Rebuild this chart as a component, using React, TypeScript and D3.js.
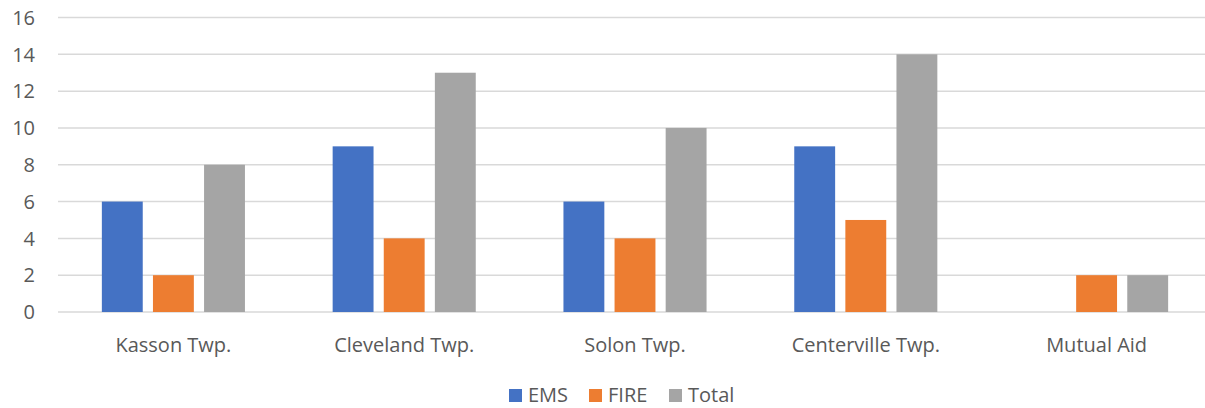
import React, { useEffect, useRef } from "react";
import * as d3 from "d3";

const categories = ["Kasson Twp.", "Cleveland Twp.", "Solon Twp.", "Centerville Twp.", "Mutual Aid"];
const seriesNames = ["EMS", "FIRE", "Total"];
const emsValues = [6, 9, 6, 9, 0];
const fireValues = [2, 4, 4, 5, 2];
const totalValues = [8, 13, 10, 14, 2];
const yTicks = [0, 2, 4, 6, 8, 10, 12, 14, 16];

const colors = ["#4472C4", "#ED7D31", "#A5A5A5"];

const App: React.FC = () => {
  const svgRef = useRef<SVGSVGElement>(null);

  useEffect(() => {
    if (!svgRef.current) return;
    const width = 1205;
    const height = 408;
    const margin = { top: 17.5, right: -7, bottom: 96, left: 58 };
    const font = "'Open Sans', 'Liberation Sans', Arial, sans-serif";

    const svg = d3.select(svgRef.current);
    svg.selectAll("*").remove();

    const x = d3
      .scaleBand<string>()
      .domain(categories)
      .range([margin.left, width - margin.right]);

    const inner = d3
      .scaleBand<string>()
      .domain(seriesNames)
      .range([0, x.bandwidth() * 0.62])
      .paddingInner(0.2);

    const y = d3
      .scaleLinear()
      .domain([0, 16])
      .range([height - margin.bottom, margin.top]);

    // gridlines
    svg
      .append("g")
      .selectAll("line")
      .data(yTicks)
      .join("line")
      .attr("x1", margin.left)
      .attr("x2", width)
      .attr("y1", (d) => y(d))
      .attr("y2", (d) => y(d))
      .attr("stroke", "#D9D9D9")
      .attr("stroke-width", 1.5);

    // y labels
    svg
      .append("g")
      .selectAll("text")
      .data(yTicks)
      .join("text")
      .attr("x", 35)
      .attr("y", (d) => y(d))
      .attr("dy", "0.36em")
      .attr("text-anchor", "end")
      .attr("font-family", font)
      .attr("font-size", 20)
      .attr("fill", "#595959")
      .text((d) => d);

    const table = categories.map((c, i) => ({
      category: c,
      values: [emsValues[i], fireValues[i], totalValues[i]],
    }));

    const groupOffset = (x.bandwidth() - x.bandwidth() * 0.62) / 2;

    const groups = svg
      .append("g")
      .selectAll("g")
      .data(table)
      .join("g")
      .attr("transform", (d) => `translate(${(x(d.category) ?? 0) + groupOffset},0)`);

    groups
      .selectAll("rect")
      .data((d) => d.values.map((v, j) => ({ name: seriesNames[j], value: v, color: colors[j] })))
      .join("rect")
      .filter((d) => d.value > 0)
      .attr("x", (d) => inner(d.name) ?? 0)
      .attr("width", inner.bandwidth())
      .attr("y", (d) => y(d.value))
      .attr("height", (d) => y(0) - y(d.value))
      .attr("fill", (d) => d.color);

    // category labels
    svg
      .append("g")
      .selectAll("text")
      .data(categories)
      .join("text")
      .attr("x", (d) => (x(d) ?? 0) + x.bandwidth() / 2)
      .attr("y", 352)
      .attr("text-anchor", "middle")
      .attr("font-family", font)
      .attr("font-size", 20)
      .attr("fill", "#595959")
      .text((d) => d);

    // legend
    const legendX = [509, 589, 669];
    const legend = svg
      .append("g")
      .selectAll("g")
      .data(seriesNames)
      .join("g")
      .attr("transform", (_, i) => `translate(${legendX[i]},389)`);
    legend
      .append("rect")
      .attr("width", 13)
      .attr("height", 13)
      .attr("fill", (_, i) => colors[i]);
    legend
      .append("text")
      .attr("x", 19)
      .attr("y", 13)
      .attr("font-family", font)
      .attr("font-size", 20)
      .attr("fill", "#595959")
      .text((d) => d);
  }, []);

  return (
    <div style={{ position: "absolute", left: 0, top: 0 }}>
      <svg ref={svgRef} width={1205} height={408} style={{ display: "block" }}></svg>
    </div>
  );
};

export default App;
